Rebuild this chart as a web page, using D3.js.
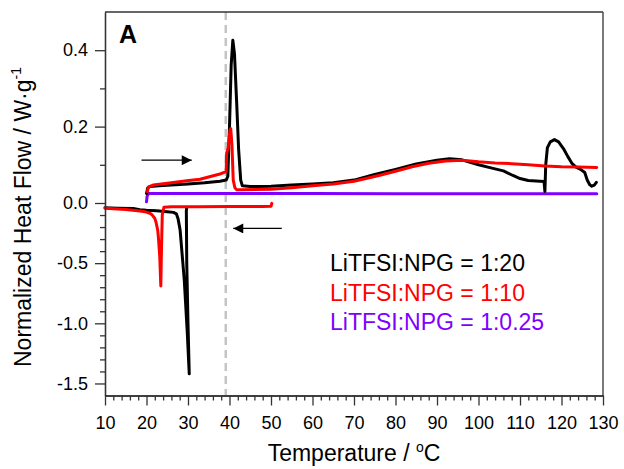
<!DOCTYPE html>
<html>
<head>
<meta charset="utf-8">
<script src="https://cdn.jsdelivr.net/npm/d3@7"></script>
<style>
  body { margin: 0; background: #fff; }
  svg { display: block; font-family: "Liberation Sans", Arial, sans-serif; }
</style>
</head>
<body>
<div id="chart"></div>
<script>
// heating runs (upper half)
const heat20T = [20.0, 20.3, 20.8, 23, 26, 30, 34, 37.7, 39.2, 39.6, 40.0, 40.4, 40.8, 41.2, 41.7, 42.2, 42.7, 43.1, 45, 50, 55, 60, 65, 70, 75, 80, 85, 90, 93, 96, 100, 103, 106, 108.3, 110, 112, 115.8, 116.0, 116.2, 116.6, 117.3, 118.3, 119.3, 120.5, 121.5, 122.5, 123.5, 124.6, 125.6, 126.2, 126.8, 127.3, 127.9, 128.4];
const heat20V = [0.025, 0.04, 0.043, 0.045, 0.047, 0.05, 0.053, 0.057, 0.06, 0.07, 0.2, 0.36, 0.426, 0.39, 0.27, 0.14, 0.06, 0.045, 0.043, 0.044, 0.047, 0.05, 0.053, 0.06, 0.075, 0.088, 0.102, 0.112, 0.116, 0.113, 0.1, 0.092, 0.084, 0.072, 0.064, 0.059, 0.056, 0.03, 0.1, 0.145, 0.16, 0.166, 0.16, 0.142, 0.122, 0.104, 0.094, 0.088, 0.08, 0.06, 0.048, 0.044, 0.047, 0.054];

const heat10T = [20.2, 20.5, 21.6, 26, 29.7, 32.9, 37.7, 39.2, 39.3, 39.7, 40.1, 40.3, 40.6, 40.9, 41.3, 41.7, 43, 50, 55, 60, 65, 70, 76, 80, 84, 88, 92, 96, 100, 104, 108, 112, 116, 120, 124, 128.5];
const heat10V = [0.03, 0.042, 0.047, 0.053, 0.058, 0.062, 0.076, 0.082, 0.13, 0.145, 0.19, 0.195, 0.15, 0.06, 0.04, 0.035, 0.035, 0.036, 0.04, 0.045, 0.05, 0.057, 0.072, 0.083, 0.095, 0.104, 0.11, 0.112, 0.108, 0.105, 0.103, 0.1, 0.097, 0.095, 0.094, 0.093];

const heat025T = [20.0, 20.15, 20.5, 25, 40, 60, 80, 100, 128.5];
const heat025V = [0.003, 0.018, 0.025, 0.025, 0.025, 0.025, 0.024, 0.024, 0.024];

// cooling runs (lower half)
const cool20T = [29.7, 29.6, 29.7, 30.0, 30.3, 29.8, 29.1, 28.1, 27.6, 27.2, 26.5, 25, 22.4, 20, 18.4, 16.8, 13, 10];
const cool20V = [-0.035, -0.066, -0.5, -1.0, -1.42, -1.06, -0.64, -0.225, -0.13, -0.09, -0.078, -0.072, -0.064, -0.06, -0.056, -0.046, -0.043, -0.04];

const cool10T = [50.2, 50.0, 48, 40, 32, 26, 24.2, 23.8, 23.6, 23.45, 23.2, 22.9, 22.7, 22.3, 22.0, 21.4, 20.8, 19.6, 18.4, 15, 12, 10];
const cool10V = [-0.003, -0.028, -0.03, -0.03, -0.031, -0.032, -0.035, -0.1, -0.4, -0.69, -0.45, -0.3, -0.225, -0.16, -0.128, -0.1, -0.086, -0.072, -0.066, -0.054, -0.047, -0.044];

const seriesNames = ['LiTFSI:NPG = 1:20', 'LiTFSI:NPG = 1:10', 'LiTFSI:NPG = 1:0.25'];
const seriesColors = ['#000000', '#ff0000', '#8000ff'];

const xTicks = [10, 20, 30, 40, 50, 60, 70, 80, 90, 100, 110, 120, 130];
const yTicks = [-1.5, -1.0, -0.5, 0.0, 0.2, 0.4];

const meltLine = 39.1;
const arrowHeat = [[18.8, 0.112], [30.9, 0.112]];
const arrowCool = [[52.6, -0.211], [40.9, -0.211]];

const width = 624, height = 469;
const svg = d3.select('#chart').append('svg').attr('width', width).attr('height', height);

const x = d3.scaleLinear().domain([10, 130]).range([105, 603]);
// broken y scale: expanded above zero, compressed below
const y = d3.scaleLinear().domain([-1.6, 0, 0.5]).range([395.5, 203, 12]);

const zip = (ts, vs) => ts.map((t, i) => [t, vs[i]]);
const line = d3.line().x(d => x(d[0])).y(d => y(d[1]));

// dashed reference line
svg.append('line')
  .attr('x1', x(meltLine)).attr('x2', x(meltLine))
  .attr('y1', y(0.5)).attr('y2', y(-1.6))
  .attr('stroke', '#c4c4c4').attr('stroke-width', 2.5)
  .attr('stroke-dasharray', '8,5');

const curves = [
  [zip(heat025T, heat025V), 2],
  [zip(cool20T, cool20V), 0],
  [zip(heat20T, heat20V), 0],
  [zip(cool10T, cool10V), 1],
  [zip(heat10T, heat10V), 1],
];
svg.selectAll('path.curve')
  .data(curves)
  .join('path')
  .attr('class', 'curve')
  .attr('fill', 'none')
  .attr('stroke', d => seriesColors[d[1]])
  .attr('stroke-width', 3)
  .attr('stroke-linejoin', 'round')
  .attr('stroke-linecap', 'round')
  .attr('d', d => line(d[0]));

// arrows
svg.append('defs').append('marker')
  .attr('id', 'head')
  .attr('viewBox', '0 0 10 10')
  .attr('refX', 10).attr('refY', 5)
  .attr('markerUnits', 'userSpaceOnUse')
  .attr('markerWidth', 17).attr('markerHeight', 10)
  .attr('orient', 'auto')
  .append('path').attr('d', 'M0,0L10,5L0,10Z').attr('fill', '#000');

[arrowHeat, arrowCool].forEach(a => {
  svg.append('line')
    .attr('x1', x(a[0][0])).attr('y1', y(a[0][1]))
    .attr('x2', x(a[1][0])).attr('y2', y(a[1][1]))
    .attr('stroke', '#000').attr('stroke-width', 1.2)
    .attr('marker-end', 'url(#head)');
});

// frame
svg.append('line').attr('x1', x(10)).attr('x2', x(130)).attr('y1', y(0.5)).attr('y2', y(0.5))
  .attr('stroke', '#333').attr('stroke-width', 1.3);
svg.append('line').attr('x1', x(130)).attr('x2', x(130)).attr('y1', y(0.5)).attr('y2', y(-1.6))
  .attr('stroke', '#333').attr('stroke-width', 1.3);

// axes
const xMinor = d3.range(12, 130, 2).filter(d => d % 10 !== 0);
const yMinor = d3.range(-15, 4).map(d => d / 10).filter(d => !yTicks.some(t => Math.abs(t - d) < 1e-6));

const styleAxis = g => {
  g.select('.domain').attr('stroke', '#333').attr('stroke-width', 1.3);
  g.selectAll('.tick line').attr('stroke', '#333').attr('stroke-width', 1.3);
  g.selectAll('.tick text').attr('fill', '#000').attr('font-size', 18)
    .attr('font-family', '"Liberation Sans", Arial, sans-serif');
};

svg.append('g')
  .attr('transform', `translate(0,${y(-1.6)})`)
  .call(d3.axisBottom(x).tickValues(xMinor).tickSize(5).tickFormat('').tickSizeOuter(0))
  .call(styleAxis);
svg.append('g')
  .attr('transform', `translate(0,${y(-1.6)})`)
  .call(d3.axisBottom(x).tickValues(xTicks).tickSize(10).tickPadding(11).tickSizeOuter(0))
  .call(styleAxis);

svg.append('g')
  .attr('transform', `translate(${x(10)},0)`)
  .call(d3.axisLeft(y).tickValues(yMinor).tickSize(5).tickFormat('').tickSizeOuter(0))
  .call(styleAxis);
svg.append('g')
  .attr('transform', `translate(${x(10)},0)`)
  .call(d3.axisLeft(y).tickValues(yTicks).tickSize(10).tickPadding(7).tickFormat(d => d.toFixed(1)).tickSizeOuter(0))
  .call(styleAxis);

// axis titles
const xt = svg.append('text')
  .attr('x', (x(10) + x(130)) / 2).attr('y', 461)
  .attr('text-anchor', 'middle').attr('font-size', 23)
  .text('Temperature / ');
xt.append('tspan').attr('font-size', 14).attr('dy', -9).text('o');
xt.append('tspan').attr('dy', 9).text('C');

const yt = svg.append('text')
  .attr('transform', 'translate(31,217) rotate(-90)')
  .attr('text-anchor', 'middle').attr('font-size', 23)
  .text('Normalized Heat Flow / W\u00b7g');
yt.append('tspan').attr('font-size', 14).attr('dy', -10).text('-1');

// panel label
svg.append('text').attr('x', 119).attr('y', 43)
  .attr('font-size', 25).attr('font-weight', 'bold').text('A');

// legend
svg.selectAll('text.legend')
  .data(seriesNames)
  .join('text')
  .attr('class', 'legend')
  .attr('x', 330)
  .attr('y', (d, i) => 271 + i * 29.5)
  .attr('font-size', 23)
  .attr('fill', (d, i) => seriesColors[i])
  .text(d => d);
</script>
</body>
</html>
